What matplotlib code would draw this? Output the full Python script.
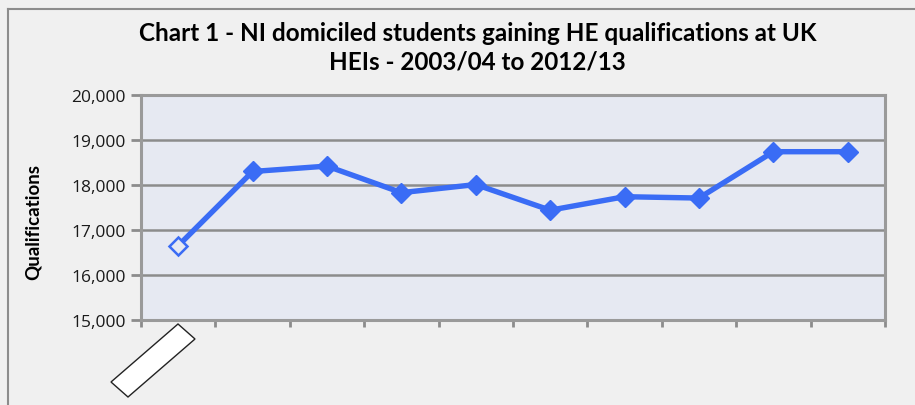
import matplotlib
matplotlib.use("Agg")
import matplotlib.pyplot as plt
from matplotlib.patches import Polygon
from matplotlib.ticker import FuncFormatter

years = ["2003/04", "2004/05", "2005/06", "2006/07", "2007/08",
         "2008/09", "2009/10", "2010/11", "2011/12", "2012/13"]
qualifications = [16650, 18300, 18420, 17830, 18010, 17440, 17740, 17710, 18740, 18740]

title = "Chart 1 - NI domiciled students gaining HE qualifications at UK\nHEIs - 2003/04 to 2012/13"
ylabel = "Qualifications"

W, H = 915, 406
fig = plt.figure(figsize=(W / 100, H / 100), dpi=100)
fig.patch.set_facecolor("#f0f0f0")

# outer chart frame (left and top edges visible)
fig.add_artist(plt.Line2D([8 / W, 8 / W], [0, 1 - 10 / H], transform=fig.transFigure,
                          color="#8c8c8c", lw=1.5))
fig.add_artist(plt.Line2D([8 / W, 1], [1 - 10 / H, 1 - 10 / H], transform=fig.transFigure,
                          color="#8c8c8c", lw=1.5))

left, right, top, bottom = 141, 885, 96, 321
ax = fig.add_axes([left / W, 1 - bottom / H, (right - left) / W, (bottom - top) / H])
ax.set_facecolor("#e6e9f2")

x = list(range(len(years)))
ax.plot(x, qualifications, color="#3a6cf5", lw=3.9, zorder=3, solid_joinstyle="round")
ax.plot(x[1:], qualifications[1:], linestyle="none", marker="D", markersize=10.5,
        color="#3a6cf5", zorder=4)
ax.plot(x[:1], qualifications[:1], linestyle="none", marker="D", markersize=9,
        markerfacecolor="#e6e9f2", markeredgecolor="#3a6cf5", markeredgewidth=1.8, zorder=4)

ax.set_xlim(-0.5, len(years) - 0.5)
ax.set_ylim(15000, 20000)
ax.set_yticks(range(15000, 20001, 1000))
ax.yaxis.set_major_formatter(FuncFormatter(lambda v, p: f"{int(v):,}"))
ax.set_xticks([i - 0.5 for i in range(len(years) + 1)])
ax.set_xticklabels([])
ax.grid(axis="y", color="#8c8c8c", lw=1.8)
ax.set_axisbelow(True)
for s in ax.spines.values():
    s.set_color("#9a9a9a")
    s.set_linewidth(2.2)
ax.tick_params(axis="y", length=7, width=2, color="#8c8c8c", labelsize=12.5,
               labelcolor="#1a1a1a", pad=4)
ax.tick_params(axis="x", length=5, width=2, color="#8c8c8c")
for lab in ax.get_yticklabels():
    lab.set_fontfamily("Open Sans")

ax.set_ylabel(ylabel, fontsize=13.5, fontweight="bold", family="Lato")
ax.yaxis.set_label_coords(-0.134, 0.44)

fig.text(0.522, 1 - 48 / H, title, ha="center", va="center", fontsize=17.5,
         fontweight="bold", family="Lato", linespacing=1.3)

# rotated empty label box under first category
box = Polygon([(111 / W, 1 - 383 / H), (178 / W, 1 - 325 / H),
               (195 / W, 1 - 340 / H), (128 / W, 1 - 398 / H)],
              closed=True, transform=fig.transFigure, facecolor="white",
              edgecolor="#222222", lw=1)
fig.add_artist(box)

fig.savefig("out.png", dpi=100, facecolor=fig.get_facecolor())
